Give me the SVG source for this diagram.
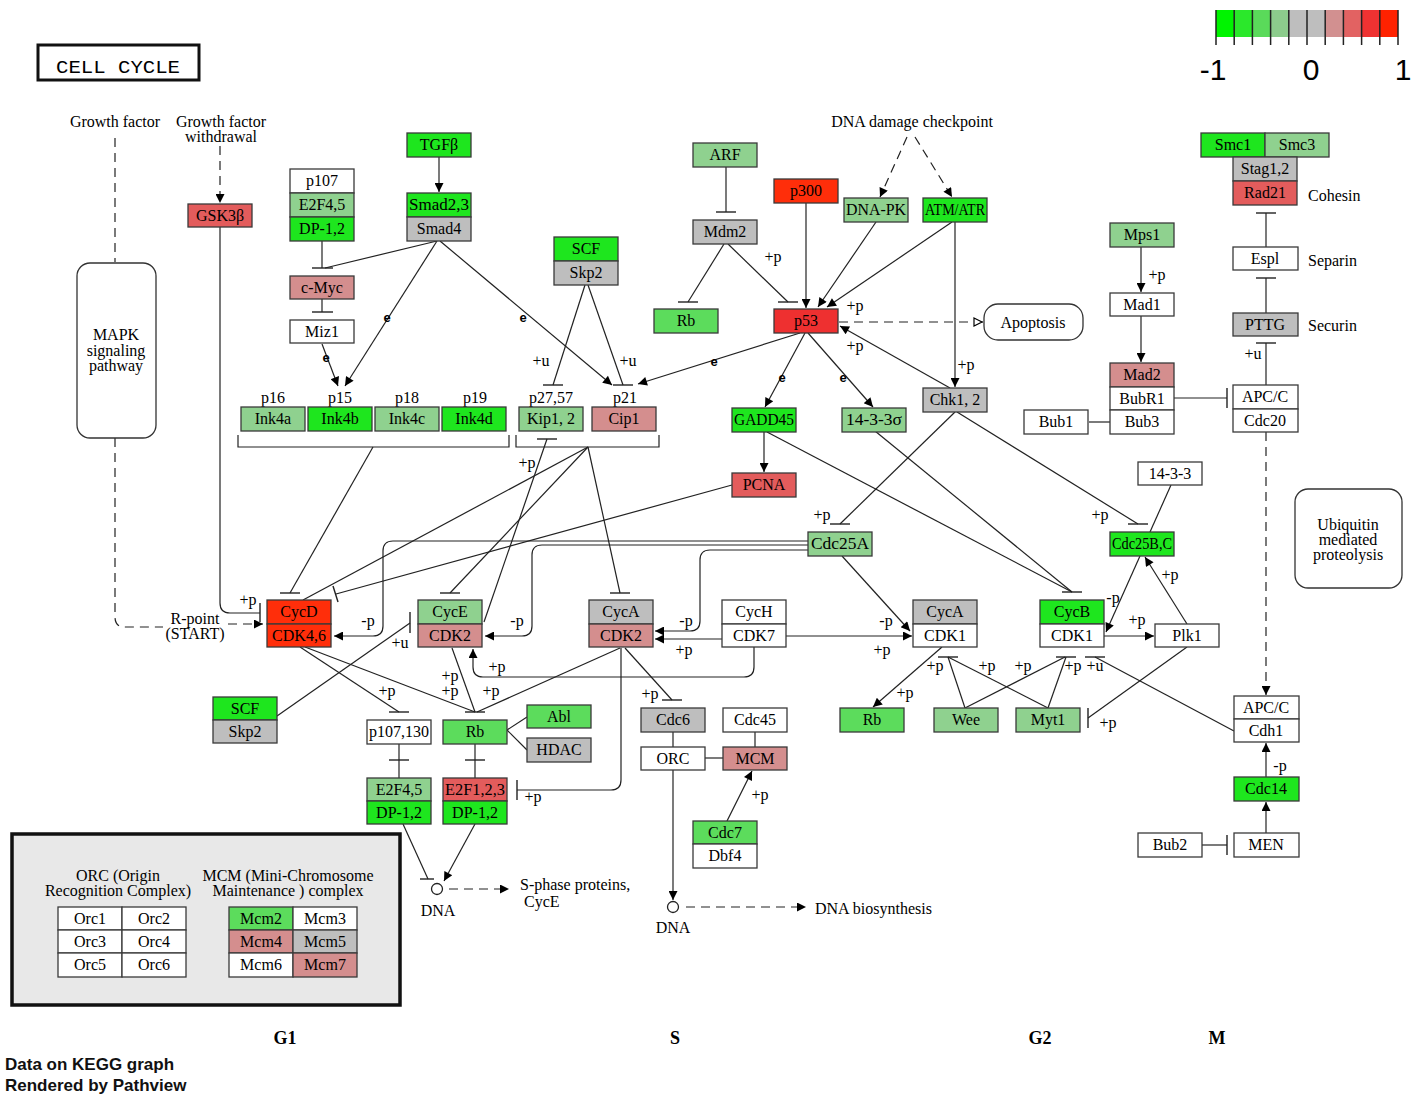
<svg xmlns="http://www.w3.org/2000/svg" width="1417" height="1101" viewBox="0 0 1417 1101">
<style>
.n rect{stroke:#3a3a3a;stroke-width:1.3}
.n text,.t{font-family:"Liberation Serif",serif;font-size:16px;text-anchor:middle;fill:#000}
.ts{font-family:"Liberation Serif",serif;font-size:16px;fill:#000}
.e{font-family:"Liberation Sans",sans-serif;font-size:13px;font-weight:bold;text-anchor:middle;fill:#000}
.g1{fill:#1EE61E}.g2{fill:#5CDC5C}.g3{fill:#8FD18F}.gy{fill:#BEBEBE}.pk{fill:#D48E8E}.r2{fill:#E35C5C}.r3{fill:#EE3030}.r4{fill:#FF2E0A}.w{fill:#FFFFFF}
#edges path{fill:none;stroke:#222;stroke-width:1.2}
#edges path.d{stroke-dasharray:9,6}
#edges path.b{stroke-width:1.4}
.ph{font-family:"Liberation Serif",serif;font-size:18px;font-weight:bold;text-anchor:middle;fill:#000}
.ft{font-family:"Liberation Sans",sans-serif;font-size:17px;font-weight:bold;fill:#111}
.ttl{font-family:"Liberation Mono",monospace;font-size:19px;font-weight:normal;text-anchor:middle;fill:#000}
.lg{font-family:"Liberation Sans",sans-serif;font-size:30px;text-anchor:middle;fill:#000}
</style>
<defs>
<marker id="a" viewBox="0 0 10 10" refX="10" refY="5" markerWidth="11" markerHeight="9" markerUnits="userSpaceOnUse" orient="auto"><path d="M0,0L10,5L0,10z" fill="#000"/></marker>
<marker id="o" viewBox="0 0 10 10" refX="10" refY="5" markerWidth="13" markerHeight="10" markerUnits="userSpaceOnUse" orient="auto"><path d="M1,1L9,5L1,9z" fill="#fff" stroke="#000" stroke-width="1.2"/></marker>
</defs>
<rect width="1417" height="1101" fill="#fff"/>

<!-- title -->
<g id="title"><rect x="38" y="45" width="161" height="35" fill="#fff" stroke="#111" stroke-width="3"/><text class="ttl" x="118" y="73" textLength="124" lengthAdjust="spacingAndGlyphs">CELL CYCLE</text></g>

<!-- colour legend -->
<g id="colorbar">
<rect x="1216" y="10" width="18.2" height="27" fill="#00F400"/>
<rect x="1234.2" y="10" width="18.2" height="27" fill="#2BE82B"/>
<rect x="1252.4" y="10" width="18.2" height="27" fill="#5ADA5A"/>
<rect x="1270.6" y="10" width="18.2" height="27" fill="#8CCC8C"/>
<rect x="1288.8" y="10" width="18.2" height="27" fill="#BEBEBE"/>
<rect x="1307" y="10" width="18.2" height="27" fill="#BEBEBE"/>
<rect x="1325.2" y="10" width="18.2" height="27" fill="#D29090"/>
<rect x="1343.4" y="10" width="18.2" height="27" fill="#E26262"/>
<rect x="1361.6" y="10" width="18.2" height="27" fill="#EF3232"/>
<rect x="1379.8" y="10" width="18.2" height="27" fill="#FF2200"/>
<path d="M1216,10V45M1234.2,10V45M1252.4,10V45M1270.6,10V45M1288.8,10V45M1307,10V45M1325.2,10V45M1343.4,10V45M1361.6,10V45M1379.8,10V45M1398,10V45" stroke="#222" stroke-width="1.5"/>
<text class="lg" x="1213" y="80">-1</text>
<text class="lg" x="1311" y="80">0</text>
<text class="lg" x="1403" y="80">1</text>
</g>

<!-- free labels -->
<g id="labels">
<text class="t" x="115" y="127">Growth factor</text>
<text class="t" x="221" y="127">Growth factor</text>
<text class="t" x="221" y="142">withdrawal</text>
<text class="t" x="912" y="127">DNA damage checkpoint</text>
<text class="ts" x="1308" y="201">Cohesin</text>
<text class="ts" x="1308" y="266">Separin</text>
<text class="ts" x="1308" y="331">Securin</text>
<text class="t" x="195" y="624">R-point</text>
<text class="t" x="195" y="639">(START)</text>
<text class="ts" x="520" y="890">S-phase proteins,</text>
<text class="ts" x="524" y="907">CycE</text>
<text class="t" x="438" y="916">DNA</text>
<text class="t" x="673" y="933">DNA</text>
<text class="ts" x="815" y="914">DNA biosynthesis</text>
<text class="t" x="273" y="403">p16</text>
<text class="t" x="340" y="403">p15</text>
<text class="t" x="407" y="403">p18</text>
<text class="t" x="475" y="403">p19</text>
<text class="t" x="551" y="403">p27,57</text>
<text class="t" x="625" y="403">p21</text>
<text class="ph" x="285" y="1044">G1</text>
<text class="ph" x="675" y="1044">S</text>
<text class="ph" x="1040" y="1044">G2</text>
<text class="ph" x="1217" y="1044">M</text>
<text class="ft" x="5" y="1070">Data on KEGG graph</text>
<text class="ft" x="5" y="1091">Rendered by Pathview</text>
</g>

<!-- connectors -->
<g id="edges">
<path class="d" d="M115,138V262"/>
<path class="d" d="M115,438V617Q115,627 125,627H163"/>
<path class="d" d="M228,624H263" marker-end="url(#a)"/>
<path class="d" d="M220,146V203" marker-end="url(#a)"/>
<path class="d" d="M907,137L880,197" marker-end="url(#a)"/>
<path class="d" d="M915,137L952,197" marker-end="url(#a)"/>
<path class="d" d="M839,322H983" marker-end="url(#o)"/>
<path class="d" d="M449,889H509" marker-end="url(#a)"/>
<path class="d" d="M686,907H806" marker-end="url(#a)"/>
<path class="d" d="M1266,432V695" marker-end="url(#a)"/>

<path d="M220,227V603Q220,613 230,613H260"/><path class="b" d="M260,603V622"/>
<path d="M322,241V268"/><path d="M437,241L325,268"/><path class="b" d="M312,268H333"/>
<path d="M322,299V312"/><path class="b" d="M312,312H333"/>
<path d="M322,344L338,386" marker-end="url(#a)"/>
<path d="M437,241L345,386" marker-end="url(#a)"/>
<path d="M440,241L612,385" marker-end="url(#a)"/>
<path d="M439,157V192" marker-end="url(#a)"/>
<path d="M585,285L553,385"/><path class="b" d="M543,385H563"/>
<path d="M588,285L623,385"/><path class="b" d="M613,385H633"/>
<path d="M800,333L638,384" marker-end="url(#a)"/>
<path d="M726,167V212"/><path class="b" d="M716,212H736"/>
<path d="M724,244L688,302"/><path class="b" d="M678,302H698"/>
<path d="M728,244L788,302"/><path class="b" d="M778,302H798"/>
<path d="M806,203V308" marker-end="url(#a)"/>
<path d="M876,222L818,307" marker-end="url(#a)"/>
<path d="M952,222L827,307" marker-end="url(#a)"/>
<path d="M955,222V387" marker-end="url(#a)"/>
<path d="M950,388L840,326" marker-end="url(#a)"/>
<path d="M805,333L765,407" marker-end="url(#a)"/>
<path d="M808,333L873,407" marker-end="url(#a)"/>
<path d="M764,432V472" marker-end="url(#a)"/>
<path d="M732,485L336,594"/><path class="b" d="M333,586L338,602"/>

<path d="M238,435V447H509V435"/>
<path d="M516,435V447H659V435"/>
<path d="M373,447L290,593"/><path class="b" d="M280,593H300"/>
<path d="M588,447L303,600"/>
<path d="M588,447L450,593"/><path class="b" d="M440,593H460"/>
<path d="M588,447L620,593"/><path class="b" d="M610,593H630"/>
<path d="M484,622L547,439"/><path class="b" d="M537,439H557"/>

<path d="M808,541H393Q383,541 383,551V626Q383,636 373,636H334" marker-end="url(#a)"/>
<path d="M808,545H542Q532,545 532,555V626Q532,636 522,636H485" marker-end="url(#a)"/>
<path d="M808,550H710Q700,550 700,560V621Q700,631 690,631H655" marker-end="url(#a)"/>
<path d="M722,639H655" marker-end="url(#a)"/>
<path d="M786,636H912" marker-end="url(#a)"/>
<path d="M842,556L910,631" marker-end="url(#a)"/>
<path d="M754,647V667Q754,677 744,677H483Q473,677 473,667V649" marker-end="url(#a)"/>

<path d="M955,412L840,524"/><path class="b" d="M830,524H850"/>
<path d="M957,412L1138,524"/><path class="b" d="M1128,524H1148"/>
<path d="M767,432L1072,592"/><path d="M875,431L1072,592"/><path class="b" d="M1062,592H1082"/>
<path d="M1171,485L1150,532"/>
<path d="M1140,556L1106,632" marker-end="url(#a)"/>
<path d="M1187,624L1145,557" marker-end="url(#a)"/>
<path d="M1104,636H1154" marker-end="url(#a)"/>
<path d="M942,647L873,707" marker-end="url(#a)"/>
<path d="M965,708L948,657"/><path d="M965,708L1065,657"/>
<path d="M1048,708L948,657"/><path d="M1048,708L1066,657"/>
<path class="b" d="M938,657H958"/><path class="b" d="M1056,657H1076"/>
<path d="M1234,731L1095,657"/><path class="b" d="M1085,657H1105"/>
<path d="M1187,647L1088,718"/><path class="b" d="M1088,708V728"/>

<path d="M1141,247V292" marker-end="url(#a)"/>
<path d="M1141,316V362" marker-end="url(#a)"/>
<path d="M1089,422H1110"/>
<path d="M1174,398H1227"/><path class="b" d="M1227,388V408"/>
<path d="M1266,247V213"/><path class="b" d="M1256,213H1276"/>
<path d="M1266,313V278"/><path class="b" d="M1256,278H1276"/>
<path d="M1266,385V343"/><path class="b" d="M1256,343H1276"/>
<path d="M1266,777V743" marker-end="url(#a)"/>
<path d="M1266,833V802" marker-end="url(#a)"/>
<path d="M1202,845H1227"/><path class="b" d="M1227,835V855"/>

<path d="M277,716L410,623"/><path class="b" d="M410,612V633"/>
<path d="M300,647L399,712"/><path class="b" d="M389,712H409"/>
<path d="M305,647L475,712"/><path d="M452,648L475,712"/><path d="M620,648L477,712"/><path class="b" d="M465,712H485"/>
<path d="M507,730L527,717"/><path d="M507,730L527,750"/>
<path d="M399,744V778"/><path class="b" d="M389,760H409"/>
<path d="M475,744V778"/><path class="b" d="M465,760H485"/>
<path d="M621,648V780Q621,790 611,790H517"/><path class="b" d="M517,780V800"/>
<path d="M625,648L672,700"/><path class="b" d="M662,700H682"/>
<path d="M403,824L428,879"/><path class="b" d="M420,879H434"/>
<path d="M475,824L444,881" marker-end="url(#a)"/>
<path d="M673,732V747"/><path d="M755,732V747"/><path d="M705,758H723"/>
<path d="M727,821L752,771" marker-end="url(#a)"/>
<path d="M673,770V900" marker-end="url(#a)"/>
<circle cx="437" cy="889" r="5.5" fill="#fff" stroke="#222" stroke-width="1.3"/>
<circle cx="673" cy="907" r="5.5" fill="#fff" stroke="#222" stroke-width="1.3"/>

<g id="edge-labels">
<text class="t" x="248" y="605">+p</text>
<text class="t" x="541" y="366">+u</text>
<text class="t" x="628" y="366">+u</text>
<text class="t" x="773" y="262">+p</text>
<text class="t" x="855" y="311">+p</text>
<text class="t" x="966" y="370">+p</text>
<text class="t" x="855" y="351">+p</text>
<text class="t" x="527" y="468">+p</text>
<text class="t" x="368" y="626">-p</text>
<text class="t" x="517" y="626">-p</text>
<text class="t" x="686" y="626">-p</text>
<text class="t" x="684" y="655">+p</text>
<text class="t" x="882" y="655">+p</text>
<text class="t" x="886" y="626">-p</text>
<text class="t" x="497" y="672">+p</text>
<text class="t" x="822" y="520">+p</text>
<text class="t" x="1100" y="520">+p</text>
<text class="t" x="1113" y="603">-p</text>
<text class="t" x="1170" y="580">+p</text>
<text class="t" x="1137" y="625">+p</text>
<text class="t" x="905" y="698">+p</text>
<text class="t" x="935" y="671">+p</text>
<text class="t" x="987" y="671">+p</text>
<text class="t" x="1023" y="671">+p</text>
<text class="t" x="1073" y="671">+p</text>
<text class="t" x="1095" y="671">+u</text>
<text class="t" x="1108" y="728">+p</text>
<text class="t" x="1157" y="280">+p</text>
<text class="t" x="1253" y="359">+u</text>
<text class="t" x="1280" y="771">-p</text>
<text class="t" x="400" y="648">+u</text>
<text class="t" x="387" y="696">+p</text>
<text class="t" x="450" y="696">+p</text>
<text class="t" x="450" y="681">+p</text>
<text class="t" x="491" y="696">+p</text>
<text class="t" x="533" y="802">+p</text>
<text class="t" x="650" y="699">+p</text>
<text class="t" x="760" y="800">+p</text>
<text class="e" x="326" y="362">e</text>
<text class="e" x="387" y="322">e</text>
<text class="e" x="523" y="322">e</text>
<text class="e" x="714" y="366">e</text>
<text class="e" x="782" y="382">e</text>
<text class="e" x="843" y="382">e</text>
</g>
</g>

<!-- map boxes -->
<g id="MAPK"><rect x="77" y="263" width="79" height="175" rx="13" fill="#fff" stroke="#333" stroke-width="1.3"/><text class="t" x="116" y="340">MAPK</text><text class="t" x="116" y="356">signaling</text><text class="t" x="116" y="371">pathway</text></g>
<g id="Apoptosis"><rect x="984" y="304" width="99" height="36" rx="14" fill="#fff" stroke="#333" stroke-width="1.3"/><text class="t" x="1033" y="328">Apoptosis</text></g>
<g id="Ubiquitin"><rect x="1295" y="489" width="107" height="99" rx="13" fill="#fff" stroke="#333" stroke-width="1.3"/><text class="t" x="1348" y="530">Ubiquitin</text><text class="t" x="1348" y="545">mediated</text><text class="t" x="1348" y="560">proteolysis</text></g>

<!-- nodes -->
<g id="GSK3B" class="n"><rect x="188" y="204" width="64" height="23" class="r2"/><text x="220" y="221">GSK3β</text></g>
<g id="p107_E2F45" class="n"><rect x="290" y="169" width="64" height="24" class="w"/><text x="322" y="186">p107</text><rect x="290" y="193" width="64" height="24" class="g3"/><text x="322" y="210">E2F4,5</text><rect x="290" y="217" width="64" height="24" class="g1"/><text x="322" y="234">DP-1,2</text></g>
<g id="cMyc" class="n"><rect x="290" y="276" width="64" height="23" class="pk"/><text x="322" y="293">c-Myc</text></g>
<g id="Miz1" class="n"><rect x="290" y="320" width="64" height="23" class="w"/><text x="322" y="337">Miz1</text></g>
<g id="TGFB" class="n"><rect x="407" y="133" width="64" height="24" class="g1"/><text x="439" y="150">TGFβ</text></g>
<g id="Smad" class="n"><rect x="407" y="193" width="64" height="24" class="g1"/><text x="439" y="210" textLength="60" lengthAdjust="spacingAndGlyphs">Smad2,3</text><rect x="407" y="217" width="64" height="24" class="gy"/><text x="439" y="234">Smad4</text></g>
<g id="SCF_top" class="n"><rect x="554" y="237" width="64" height="24" class="g1"/><text x="586" y="254">SCF</text><rect x="554" y="261" width="64" height="24" class="gy"/><text x="586" y="278">Skp2</text></g>
<g id="Ink4a" class="n"><rect x="241" y="407" width="64" height="24" class="g3"/><text x="273" y="424">Ink4a</text></g>
<g id="Ink4b" class="n"><rect x="308" y="407" width="64" height="24" class="g1"/><text x="340" y="424">Ink4b</text></g>
<g id="Ink4c" class="n"><rect x="375" y="407" width="64" height="24" class="g3"/><text x="407" y="424">Ink4c</text></g>
<g id="Ink4d" class="n"><rect x="442" y="407" width="64" height="24" class="g1"/><text x="474" y="424">Ink4d</text></g>
<g id="Kip12" class="n"><rect x="519" y="407" width="64" height="24" class="g3"/><text x="551" y="424">Kip1, 2</text></g>
<g id="Cip1" class="n"><rect x="592" y="407" width="64" height="24" class="pk"/><text x="624" y="424">Cip1</text></g>
<g id="ARF" class="n"><rect x="693" y="143" width="64" height="24" class="g3"/><text x="725" y="160">ARF</text></g>
<g id="Mdm2" class="n"><rect x="693" y="220" width="64" height="24" class="gy"/><text x="725" y="237">Mdm2</text></g>
<g id="Rb_top" class="n"><rect x="654" y="309" width="64" height="24" class="g2"/><text x="686" y="326">Rb</text></g>
<g id="p300" class="n"><rect x="774" y="179" width="64" height="24" class="r4"/><text x="806" y="196">p300</text></g>
<g id="p53" class="n"><rect x="774" y="309" width="64" height="24" class="r3"/><text x="806" y="326">p53</text></g>
<g id="DNAPK" class="n"><rect x="844" y="198" width="64" height="24" class="g3"/><text x="876" y="215" textLength="60" lengthAdjust="spacingAndGlyphs">DNA-PK</text></g>
<g id="ATM" class="n"><rect x="923" y="198" width="64" height="24" class="g1"/><text x="955" y="215" textLength="60" lengthAdjust="spacingAndGlyphs">ATM/ATR</text></g>
<g id="GADD45" class="n"><rect x="732" y="408" width="64" height="24" class="g1"/><text x="764" y="425" textLength="60" lengthAdjust="spacingAndGlyphs">GADD45</text></g>
<g id="s1433s" class="n"><rect x="842" y="408" width="64" height="24" class="g3"/><text x="874" y="425" textLength="56" lengthAdjust="spacingAndGlyphs">14-3-3σ</text></g>
<g id="Chk12" class="n"><rect x="923" y="388" width="64" height="24" class="gy"/><text x="955" y="405">Chk1, 2</text></g>
<g id="PCNA" class="n"><rect x="732" y="473" width="64" height="24" class="r2"/><text x="764" y="490">PCNA</text></g>
<g id="Cdc25A" class="n"><rect x="808" y="532" width="64" height="24" class="g3"/><text x="840" y="549" textLength="58" lengthAdjust="spacingAndGlyphs">Cdc25A</text></g>
<g id="Mps1" class="n"><rect x="1110" y="223" width="64" height="24" class="g3"/><text x="1142" y="240">Mps1</text></g>
<g id="Mad1" class="n"><rect x="1110" y="293" width="64" height="23" class="w"/><text x="1142" y="310">Mad1</text></g>
<g id="Mad2" class="n"><rect x="1110" y="363" width="64" height="24" class="pk"/><text x="1142" y="380">Mad2</text><rect x="1110" y="387" width="64" height="23" class="w"/><text x="1142" y="404">BubR1</text><rect x="1110" y="410" width="64" height="24" class="w"/><text x="1142" y="427">Bub3</text></g>
<g id="Bub1" class="n"><rect x="1024" y="410" width="64" height="24" class="w"/><text x="1056" y="427">Bub1</text></g>
<g id="Cohesin" class="n"><rect x="1201" y="133" width="64" height="24" class="g1"/><text x="1233" y="150">Smc1</text><rect x="1265" y="133" width="64" height="24" class="g3"/><text x="1297" y="150">Smc3</text><rect x="1233" y="157" width="64" height="24" class="gy"/><text x="1265" y="174">Stag1,2</text><rect x="1233" y="181" width="64" height="24" class="r2"/><text x="1265" y="198">Rad21</text></g>
<g id="Espl" class="n"><rect x="1233" y="247" width="65" height="23" class="w"/><text x="1265" y="264">Espl</text></g>
<g id="PTTG" class="n"><rect x="1233" y="313" width="65" height="23" class="gy"/><text x="1265" y="330">PTTG</text></g>
<g id="APCC_Cdc20" class="n"><rect x="1233" y="385" width="65" height="24" class="w"/><text x="1265" y="402">APC/C</text><rect x="1233" y="409" width="65" height="23" class="w"/><text x="1265" y="426">Cdc20</text></g>
<g id="s1433" class="n"><rect x="1138" y="462" width="64" height="23" class="w"/><text x="1170" y="479">14-3-3</text></g>
<g id="Cdc25BC" class="n"><rect x="1110" y="532" width="64" height="24" class="g1"/><text x="1142" y="549" textLength="60" lengthAdjust="spacingAndGlyphs">Cdc25B,C</text></g>
<g id="CycD" class="n"><rect x="267" y="600" width="64" height="24" class="r4"/><text x="299" y="617">CycD</text><rect x="267" y="624" width="64" height="23" class="r4"/><text x="299" y="641">CDK4,6</text></g>
<g id="CycE" class="n"><rect x="418" y="600" width="64" height="24" class="g3"/><text x="450" y="617">CycE</text><rect x="418" y="624" width="64" height="23" class="pk"/><text x="450" y="641">CDK2</text></g>
<g id="CycA_S" class="n"><rect x="589" y="600" width="64" height="24" class="gy"/><text x="621" y="617">CycA</text><rect x="589" y="624" width="64" height="23" class="pk"/><text x="621" y="641">CDK2</text></g>
<g id="CycH" class="n"><rect x="722" y="600" width="64" height="24" class="w"/><text x="754" y="617">CycH</text><rect x="722" y="624" width="64" height="23" class="w"/><text x="754" y="641">CDK7</text></g>
<g id="CycA_G2" class="n"><rect x="913" y="600" width="64" height="24" class="gy"/><text x="945" y="617">CycA</text><rect x="913" y="624" width="64" height="23" class="w"/><text x="945" y="641">CDK1</text></g>
<g id="CycB" class="n"><rect x="1040" y="600" width="64" height="24" class="g1"/><text x="1072" y="617">CycB</text><rect x="1040" y="624" width="64" height="23" class="w"/><text x="1072" y="641">CDK1</text></g>
<g id="Plk1" class="n"><rect x="1155" y="624" width="64" height="23" class="w"/><text x="1187" y="641">Plk1</text></g>
<g id="SCF_G1" class="n"><rect x="213" y="697" width="64" height="23" class="g1"/><text x="245" y="714">SCF</text><rect x="213" y="720" width="64" height="23" class="gy"/><text x="245" y="737">Skp2</text></g>
<g id="p107130" class="n"><rect x="367" y="720" width="64" height="24" class="w"/><text x="399" y="737" textLength="60" lengthAdjust="spacingAndGlyphs">p107,130</text></g>
<g id="Rb_G1" class="n"><rect x="443" y="720" width="64" height="24" class="g2"/><text x="475" y="737">Rb</text></g>
<g id="Abl" class="n"><rect x="527" y="705" width="64" height="23" class="g2"/><text x="559" y="722">Abl</text></g>
<g id="HDAC" class="n"><rect x="527" y="738" width="64" height="24" class="gy"/><text x="559" y="755">HDAC</text></g>
<g id="E2F45" class="n"><rect x="367" y="778" width="64" height="23" class="g3"/><text x="399" y="795">E2F4,5</text><rect x="367" y="801" width="64" height="23" class="g1"/><text x="399" y="818">DP-1,2</text></g>
<g id="E2F123" class="n"><rect x="443" y="778" width="64" height="23" class="r2"/><text x="475" y="795" textLength="60" lengthAdjust="spacingAndGlyphs">E2F1,2,3</text><rect x="443" y="801" width="64" height="23" class="g1"/><text x="475" y="818">DP-1,2</text></g>
<g id="Cdc6" class="n"><rect x="641" y="708" width="64" height="24" class="gy"/><text x="673" y="725">Cdc6</text></g>
<g id="Cdc45" class="n"><rect x="723" y="708" width="64" height="24" class="w"/><text x="755" y="725">Cdc45</text></g>
<g id="ORC" class="n"><rect x="641" y="747" width="64" height="23" class="w"/><text x="673" y="764">ORC</text></g>
<g id="MCM" class="n"><rect x="723" y="747" width="64" height="23" class="pk"/><text x="755" y="764">MCM</text></g>
<g id="Cdc7" class="n"><rect x="693" y="821" width="64" height="23" class="g2"/><text x="725" y="838">Cdc7</text><rect x="693" y="844" width="64" height="24" class="w"/><text x="725" y="861">Dbf4</text></g>
<g id="Rb_G2" class="n"><rect x="840" y="708" width="64" height="24" class="g2"/><text x="872" y="725">Rb</text></g>
<g id="Wee" class="n"><rect x="934" y="708" width="64" height="24" class="g3"/><text x="966" y="725">Wee</text></g>
<g id="Myt1" class="n"><rect x="1016" y="708" width="64" height="24" class="g3"/><text x="1048" y="725">Myt1</text></g>
<g id="APCC_Cdh1" class="n"><rect x="1234" y="696" width="65" height="23" class="w"/><text x="1266" y="713">APC/C</text><rect x="1234" y="719" width="65" height="23" class="w"/><text x="1266" y="736">Cdh1</text></g>
<g id="Cdc14" class="n"><rect x="1234" y="777" width="65" height="24" class="g1"/><text x="1266" y="794">Cdc14</text></g>
<g id="MEN" class="n"><rect x="1234" y="833" width="65" height="24" class="w"/><text x="1266" y="850">MEN</text></g>
<g id="Bub2" class="n"><rect x="1138" y="833" width="64" height="24" class="w"/><text x="1170" y="850">Bub2</text></g>

<!-- legend box -->
<g id="legend">
<rect x="12" y="834" width="388" height="171" fill="#E8E8E8" stroke="#111" stroke-width="3.5"/>
<text class="t" x="118" y="881">ORC (Origin</text>
<text class="t" x="118" y="896">Recognition Complex)</text>
<text class="t" x="288" y="881">MCM (Mini-Chromosome</text>
<text class="t" x="288" y="896">Maintenance ) complex</text>
<g class="n">
<rect x="58" y="907" width="64" height="23" class="w"/><text x="90" y="924">Orc1</text>
<rect x="122" y="907" width="64" height="23" class="w"/><text x="154" y="924">Orc2</text>
<rect x="58" y="930" width="64" height="23" class="w"/><text x="90" y="947">Orc3</text>
<rect x="122" y="930" width="64" height="23" class="w"/><text x="154" y="947">Orc4</text>
<rect x="58" y="953" width="64" height="24" class="w"/><text x="90" y="970">Orc5</text>
<rect x="122" y="953" width="64" height="24" class="w"/><text x="154" y="970">Orc6</text>
<rect x="229" y="907" width="64" height="23" class="g2"/><text x="261" y="924">Mcm2</text>
<rect x="293" y="907" width="64" height="23" class="w"/><text x="325" y="924">Mcm3</text>
<rect x="229" y="930" width="64" height="23" class="pk"/><text x="261" y="947">Mcm4</text>
<rect x="293" y="930" width="64" height="23" class="gy"/><text x="325" y="947">Mcm5</text>
<rect x="229" y="953" width="64" height="24" class="w"/><text x="261" y="970">Mcm6</text>
<rect x="293" y="953" width="64" height="24" class="pk"/><text x="325" y="970">Mcm7</text>
</g>
</g>
</svg>
